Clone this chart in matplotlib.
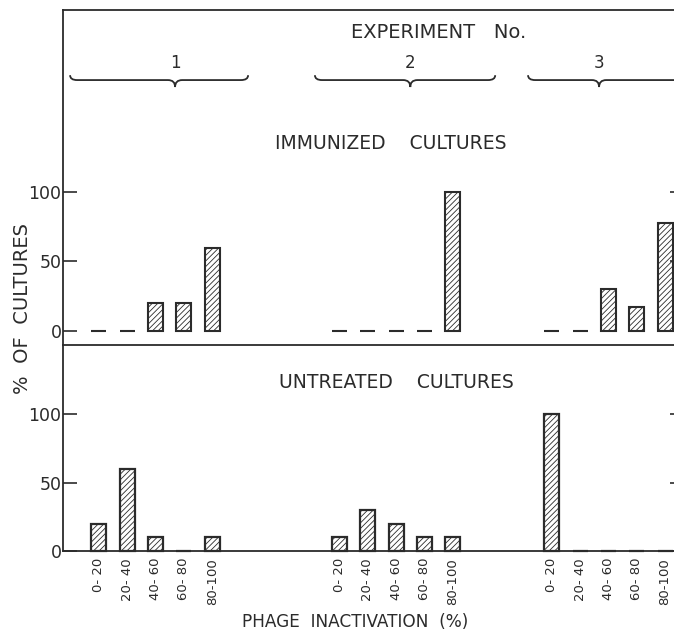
import numpy as np
import matplotlib.pyplot as plt
from matplotlib.path import Path
from matplotlib.patches import PathPatch

# phage inactivation classes and % of cultures per class, per experiment
ranges = ["0- 20", "20- 40", "40- 60", "60- 80", "80-100"]
experiments = ["1", "2", "3"]
immunized_1 = [0, 0, 20, 20, 60]
immunized_2 = [0, 0, 0, 0, 100]
immunized_3 = [0, 0, 30, 17, 78]
untreated_1 = [20, 60, 10, 0, 10]
untreated_2 = [10, 30, 20, 10, 10]
untreated_3 = [100, 0, 0, 0, 0]
y_ticks = [0, 50, 100]

# layout (x in bar slots, one slot per class)
group_start = [0, 8.5, 16]
bar_w = 0.53
INK = "#2b2b2b"

plt.rcParams["hatch.linewidth"] = 0.6
plt.rcParams["font.family"] = "DejaVu Sans"

x = np.concatenate([np.arange(len(ranges)) + s for s in group_start])
imm = np.concatenate([immunized_1, immunized_2, immunized_3])
unt = np.concatenate([untreated_1, untreated_2, untreated_3])

W, H = 674, 635
fig = plt.figure(figsize=(W / 100, H / 100), dpi=100)


def px_axes(x0, y0, x1, y1):
    return fig.add_axes([x0 / W, 1 - y1 / H, (x1 - x0) / W, (y1 - y0) / H])


ax_top = px_axes(63, 10, 684, 345)
ax_bot = px_axes(63, 345, 684, 551)

for ax in (ax_top, ax_bot):
    ax.set_xlim(-1.27, 20.67)
    for s in ax.spines.values():
        s.set_color(INK)
        s.set_linewidth(1.3)
    ax.spines["right"].set_visible(False)
    ax.set_yticks(y_ticks)
    ax.tick_params(axis="y", direction="in", length=10, width=1.2,
                   left=True, right=True, labelsize=12.5, pad=1,
                   colors=INK, labelcolor=INK)
    ax.patch.set_alpha(0)

ax_top.set_ylim(-10.07, 230.9)
ax_bot.set_ylim(0, 150.4)
ax_bot.spines["top"].set_visible(False)

ax_top.set_xticks([])
ax_bot.set_xticks(x)
ax_bot.set_xticklabels(ranges * len(experiments), rotation=90, fontsize=9.5,
                       color=INK)
ax_bot.tick_params(axis="x", length=0, pad=5)

ax_top.bar(x, imm, width=bar_w, facecolor="white", edgecolor=INK,
           linewidth=1.5, hatch="//////")
# zero classes show as short marks sitting on the baseline
ax_bot.bar(x, unt, width=bar_w, facecolor="white", edgecolor=INK,
           linewidth=1.6, hatch="//////", zorder=3, clip_on=False)

ax_top.text(10.3, 135, "IMMUNIZED    CULTURES", ha="center", va="center",
            fontsize=13.5, color=INK)
ax_bot.text(10.5, 123, "UNTREATED    CULTURES", ha="center", va="center",
            fontsize=13.5, color=INK)
ax_top.text(12.0, 215, "EXPERIMENT   No.", ha="center", va="center",
            fontsize=14, color=INK)


def brace(ax, x0, x1, xm, y_tip=184, y_line=180.5, y_dip=175.5, r=0.25):
    verts = [(x0, y_tip), (x0, y_line), (x0 + r, y_line),
             (xm - r, y_line), (xm, y_line), (xm, y_dip),
             (xm, y_line), (xm + r, y_line),
             (x1 - r, y_line), (x1, y_line), (x1, y_tip)]
    codes = [Path.MOVETO, Path.CURVE3, Path.CURVE3,
             Path.LINETO, Path.CURVE3, Path.CURVE3,
             Path.CURVE3, Path.CURVE3,
             Path.LINETO, Path.CURVE3, Path.CURVE3]
    ax.add_patch(PathPatch(Path(verts, codes), facecolor="none",
                           edgecolor=INK, linewidth=1.3, clip_on=False))


brace_spans = [(-1.02, 5.27, 2.69), (7.63, 14.0, 11.0), (15.16, 21.5, 17.67)]
for label, (b0, b1, bm) in zip(experiments, brace_spans):
    brace(ax_top, b0, b1, bm)
    ax_top.text(bm, 193, label, ha="center", va="center", fontsize=12,
                color=INK)

fig.text(22 / W, 1 - 309 / H, "%  OF  CULTURES", rotation=90, ha="center",
         va="center", fontsize=14, color=INK)
fig.text(355 / W, 1 - 622 / H, "PHAGE  INACTIVATION  (%)", ha="center",
         va="center", fontsize=12.2, color=INK)

fig.savefig("out.png", dpi=100)
